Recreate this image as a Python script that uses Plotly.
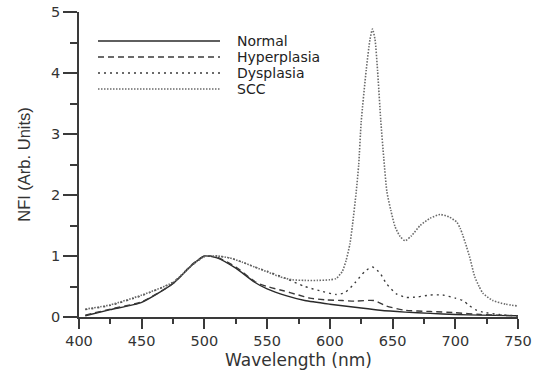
import plotly.graph_objects as go

# ---- data ----
normal_x = [405, 425, 450, 475, 490, 500, 510, 525, 540, 550, 565, 580, 600, 620, 640, 660, 680, 700, 720, 750]
normal_y = [0.02, 0.12, 0.24, 0.55, 0.85, 1.0, 0.97, 0.80, 0.57, 0.46, 0.35, 0.27, 0.21, 0.16, 0.11, 0.08, 0.06, 0.04, 0.03, 0.02]

hyper_x = [405, 425, 450, 475, 490, 500, 510, 525, 541, 550, 563, 575, 584, 597, 610, 620, 635, 645, 660, 680, 700, 720, 750]
hyper_y = [0.03, 0.13, 0.25, 0.55, 0.86, 1.0, 0.98, 0.82, 0.57, 0.50, 0.43, 0.36, 0.31, 0.28, 0.27, 0.26, 0.27, 0.18, 0.11, 0.09, 0.07, 0.04, 0.02]

dysp_x = [405, 425, 450, 475, 490, 500, 510, 520, 530, 540, 550, 565, 580, 592, 605, 612, 620, 628, 634, 640, 645, 653, 661, 670, 680, 690, 700, 706, 711, 716, 722, 735, 750]
dysp_y = [0.12, 0.19, 0.35, 0.57, 0.85, 0.99, 1.0, 0.97, 0.90, 0.82, 0.75, 0.63, 0.50, 0.43, 0.37, 0.40, 0.56, 0.75, 0.82, 0.72, 0.55, 0.38, 0.32, 0.33, 0.36, 0.36, 0.31, 0.27, 0.19, 0.12, 0.08, 0.04, 0.02]

scc_x = [405, 425, 450, 475, 490, 500, 510, 520, 530, 540, 550, 560, 570, 580, 590, 600, 605, 610, 613, 616, 618, 621, 623, 625, 629, 632, 634, 636, 638, 640.6, 643, 645.5, 648.6, 652, 656, 660, 665, 672, 680, 688, 695, 701, 704, 706, 709, 711.5, 715.5, 719, 722, 730, 740, 750]
scc_y = [0.13, 0.20, 0.36, 0.57, 0.85, 0.99, 1.0, 0.97, 0.90, 0.82, 0.74, 0.66, 0.61, 0.60, 0.60, 0.61, 0.63, 0.75, 0.93, 1.20, 1.50, 2.05, 2.50, 3.20, 4.05, 4.55, 4.72, 4.55, 4.05, 3.22, 2.60, 2.05, 1.75, 1.48, 1.32, 1.25, 1.33, 1.50, 1.62, 1.68, 1.64, 1.56, 1.45, 1.34, 1.15, 0.98, 0.66, 0.50, 0.39, 0.27, 0.21, 0.18]

series_names = ["Normal", "Hyperplasia", "Dysplasia", "SCC"]
x_ticks = [400, 450, 500, 550, 600, 650, 700, 750]
y_ticks = [0, 1, 2, 3, 4, 5]

styles = [
    dict(color="#2a2a2a", width=1.4, dash="solid"),
    dict(color="#3a3a3a", width=1.4, dash="6px,4px"),
    dict(color="#3a3a3a", width=1.4, dash="2px,4px"),
    dict(color="#6a6a6a", width=1.6, dash="1.5px,1.5px"),
]

W, H = 534, 370
L, R, T, B = 79, 16, 12, 53

fig = go.Figure()
for name, xs, ys, st in zip(series_names,
                            [normal_x, hyper_x, dysp_x, scc_x],
                            [normal_y, hyper_y, dysp_y, scc_y],
                            styles):
    fig.add_trace(go.Scatter(x=xs, y=ys, mode="lines", name=name,
                             line=dict(shape="spline", smoothing=0.6, **st),
                             showlegend=False, cliponaxis=False))

# hand-drawn style legend (long line samples like the reference)
pw = W - L - R
ph = H - T - B
rows_px = [41, 57, 73, 89]
for name, st, ry in zip(series_names, styles, rows_px):
    yp = (H - B - ry) / ph
    fig.add_shape(type="line", xref="paper", yref="paper",
                  x0=(98 - L) / pw, x1=(220 - L) / pw, y0=yp, y1=yp,
                  line=dict(color=st["color"], width=st["width"], dash=st["dash"]))
    fig.add_annotation(xref="paper", yref="paper", x=(235 - L) / pw, y=yp,
                       text=name, showarrow=False, xanchor="left", yanchor="middle",
                       font=dict(family="DejaVu Sans", size=14, color="#222"))

axis_common = dict(showline=True, linecolor="#3a3a3a", linewidth=1.6,
                   ticks="outside", tickcolor="#3a3a3a", tickwidth=1.5,
                   showgrid=False, zeroline=False, mirror=False, automargin=False,
                   tickfont=dict(family="DejaVu Sans", size=14.5, color="#333"))

fig.update_xaxes(range=[400, 750], tickvals=x_ticks, ticklen=10,
                 minor=dict(ticks="outside", dtick=25, ticklen=5, tickcolor="#3a3a3a", tickwidth=1.5),
                 title=dict(text="Wavelength (nm)", standoff=8,
                            font=dict(family="DejaVu Sans", size=17, color="#333")),
                 **axis_common)
fig.update_yaxes(range=[0, 5], tickvals=y_ticks, ticklen=14,
                 minor=dict(ticks="outside", dtick=0.5, ticklen=7, tickcolor="#3a3a3a", tickwidth=1.5),
                 title=dict(text="NFI (Arb. Units)", standoff=16,
                            font=dict(family="Liberation Sans", size=16.5, color="#333")),
                 **axis_common)

fig.update_layout(width=W, height=H, margin=dict(l=L, r=R, t=T, b=B, autoexpand=False),
                  paper_bgcolor="white", plot_bgcolor="white", showlegend=False)

fig.write_html("out.html", config={"displayModeBar": False},
               post_script="document.body.style.margin='0';document.body.style.overflow='hidden';")
